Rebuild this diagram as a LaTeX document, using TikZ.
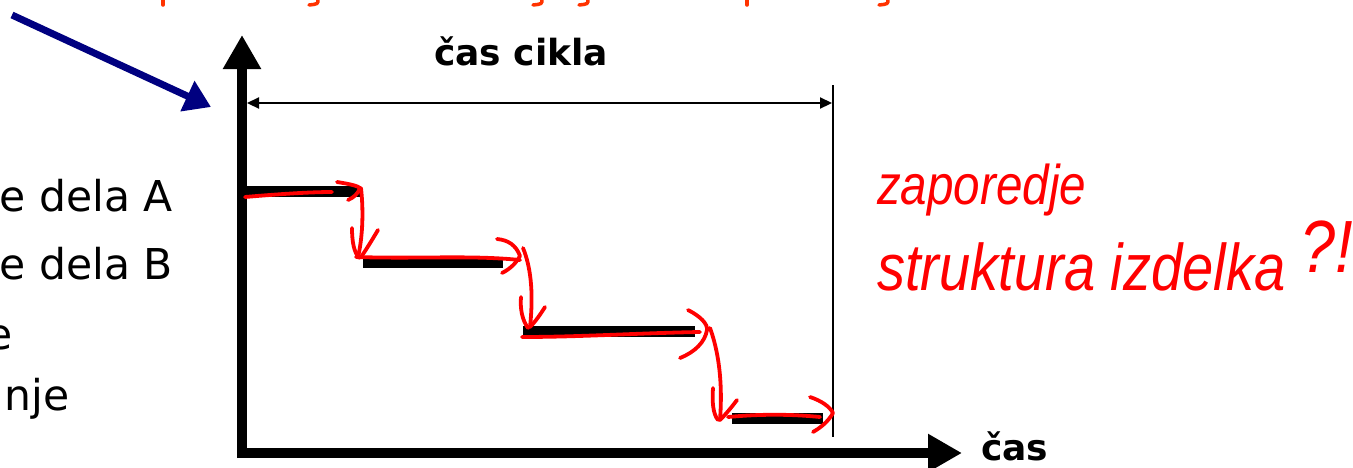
\documentclass[tikz,border=0pt]{standalone}
\usepackage{fontspec}
\setmainfont{DejaVu Sans}
\newfontfamily\handfont{Liberation Sans}
\usetikzlibrary{arrows.meta}
\definecolor{navyblue}{RGB}{0,0,128}
\definecolor{inkred}{RGB}{255,0,0}
\definecolor{topred}{RGB}{255,51,0}
\begin{document}
\begin{tikzpicture}[x=1pt,y=-1pt,
  axisline/.style={line width=10pt,-{Triangle[length=34pt,width=36pt]}},
  dimline/.style={line width=2.2pt,{Triangle[length=12pt,width=11pt]}-{Triangle[length=12pt,width=11pt]}},
  thinline/.style={line width=2.2pt},
  bar/.style={line width=11pt},
  ink/.style={inkred,line width=3.8pt,line cap=round,line join=round},
  topink/.style={topred,line width=3.5pt,line cap=round},
  lefttext/.style={anchor=base east,inner sep=0pt,font=\fontsize{42.5}{50}\selectfont},
  boldlabel/.style={inner sep=0pt,font=\fontsize{36}{42}\selectfont\bfseries},
  hand/.style={inkred,inner sep=0pt,anchor=base west,xscale=0.85,transform shape}
]
\useasboundingbox (0,0) rectangle (1353,467);
\fill[white] (0,0) rectangle (1353,467);

% cut-off red text at top (descenders only)
\draw[topink] (163,-1) -- (163,5);
\draw[topink] (318,-1) .. controls (318,4) .. (309,5);
\draw[topink] (542,-1) .. controls (542,4) .. (533,5);
\draw[topink] (588,-1) .. controls (588,4) .. (579,5);
\draw[topink] (747,-1) -- (747,5);
\draw[topink] (888,-1) .. controls (888,4) .. (879,5);

% blue arrow
\coordinate (bs) at (12,15);
\coordinate (bt) at (211,107);
\draw[navyblue,line width=7pt,-{Triangle[length=26pt,width=32pt]}] (bs) -- (bt);

% axes
\coordinate (origin) at (242,453);
\coordinate (ytip) at (242,35);
\coordinate (xstart) at (237,453);
\coordinate (xtip) at (962,453);
\draw[axisline] (242,458) -- (ytip);
\draw[axisline] (xstart) -- (xtip);

% cycle time dimension
\coordinate (dl) at (247,103);
\coordinate (dr) at (832,103);
\coordinate (vt) at (833,85);
\coordinate (vb) at (833,437);
\draw[thinline] (vt) -- (vb);
\draw[dimline] (dl) -- (dr);
\node[boldlabel,anchor=base] (cascikla) at (521,65) {čas cikla};
\node[boldlabel,anchor=base west] (cas) at (981,460) {čas};

% left text
\node[lefttext] (t1) at (173,211) {e dela A};
\node[lefttext] (t2) at (173,279) {e dela B};
\node[lefttext] (t3) at (13,349) {e};
\node[lefttext] (t4) at (70,410) {nje};

% bars
\coordinate (b1s) at (242,191); \coordinate (b1e) at (360,191);
\coordinate (b2s) at (363,262); \coordinate (b2e) at (503,262);
\coordinate (b3s) at (523,331); \coordinate (b3e) at (695,331);
\coordinate (b4s) at (732,418); \coordinate (b4e) at (823,418);
\draw[bar] (b1s) -- (b1e);
\draw[bar] (b2s) -- (b2e);
\draw[bar] (b3s) -- (b3e);
\draw[bar] (b4s) -- (b4e);

% red hand-drawn arrows
\draw[ink] (245,197) .. controls (280,194) and (310,192) .. (332,192);
\draw[ink] (337,182) .. controls (350,184) and (358,186) .. (360,188) .. controls (358,194) and (353,198) .. (348,200);
\draw[ink] (361,188) .. controls (364,215) and (362,240) .. (358,257);
\draw[ink] (352,228) .. controls (352,242) and (354,252) .. (359,258);
\draw[ink] (378,230) .. controls (372,240) and (366,250) .. (361,257);
\draw[ink] (356,257) .. controls (420,259) and (470,255) .. (520,260);
\draw[ink] (497,239) .. controls (508,240) and (516,245) .. (520,256) .. controls (515,265) and (508,270) .. (502,273);
\draw[ink] (523,248) .. controls (530,265) and (534,290) .. (530,327);
\draw[ink] (521,297) .. controls (520,308) and (522,320) .. (528,328);
\draw[ink] (545,307) .. controls (540,315) and (535,322) .. (530,327);
\draw[ink] (522,337) .. controls (580,337) and (640,333) .. (700,332);
\draw[ink] (688,310) .. controls (700,316) and (708,324) .. (707,330) .. controls (705,342) and (695,352) .. (680,358);
\draw[ink] (710,328) .. controls (718,350) and (723,380) .. (720,420);
\draw[ink] (713,388) .. controls (712,402) and (713,414) .. (718,420);
\draw[ink] (737,400) .. controls (731,408) and (725,415) .. (720,420);
\draw[ink] (728,417) .. controls (760,414) and (790,414) .. (820,417);
\draw[ink] (810,397) .. controls (822,401) and (830,407) .. (833,413) .. controls (828,422) and (820,428) .. (813,432);

% handwritten note
\node[hand,font=\handfont\itshape\fontsize{56}{66}\selectfont] (h1) at (877,204) {zaporedje};
\node[hand,font=\handfont\itshape\fontsize{66}{76}\selectfont] (h2) at (877,290) {struktura izdelka};
\node[hand,font=\handfont\itshape\fontsize{74}{80}\selectfont] (h3) at (1300,272) {?!};
\end{tikzpicture}
\end{document}
